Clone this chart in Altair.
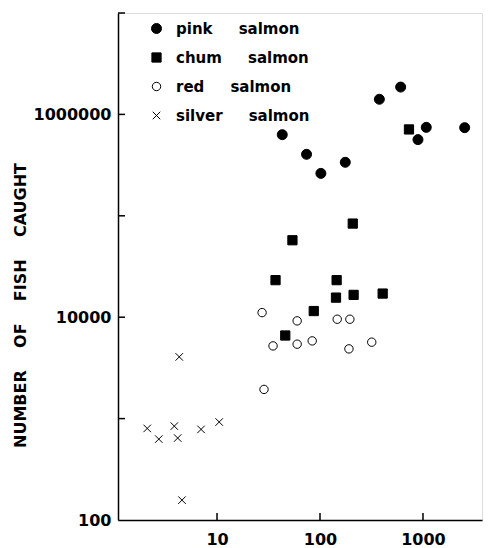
import altair as alt
import pandas as pd

# ---- data (x = body size / y = number caught) ----
PINK_X = [43, 74, 102, 176, 377, 607, 894, 1076, 2540]
PINK_Y = [631000, 404000, 262000, 337000, 1410000, 1860000, 564000, 745000, 740000]

CHUM_X = [731, 208, 54, 37, 145, 143, 212, 406, 87, 46]
CHUM_Y = [711000, 83800, 57400, 23200, 23200, 15600, 16600, 17100, 11500, 6600]

RED_X = [27.4, 60, 147, 195, 35, 60, 84, 191, 318, 28.6]
RED_Y = [11100, 9200, 9550, 9550, 5210, 5420, 5840, 4870, 5670, 1940]

SILVER_X = [4.3, 2.1, 2.72, 3.85, 4.15, 7.0, 10.5, 4.57]
SILVER_Y = [4060, 800, 628, 843, 643, 783, 925, 157]

NB = "\u00a0"
SPECIES = [
    "pink" + NB * 5 + "salmon",
    "chum" + NB * 5 + "salmon",
    "red" + NB * 5 + "salmon",
    "silver" + NB * 5 + "salmon",
]

X_TICKS = [10, 100, 1000]
Y_TICKS = [1000, 10000, 100000, 1000000, 10000000]
X_LABELS = [10, 100, 1000]
Y_LABELS = [100, 10000, 1000000]

rows = []
for name, xs, ys in zip(SPECIES, [PINK_X, CHUM_X, RED_X, SILVER_X],
                        [PINK_Y, CHUM_Y, RED_Y, SILVER_Y]):
    for a, b in zip(xs, ys):
        rows.append({"species": name, "x": a, "y": b})
df = pd.DataFrame(rows)

FONT = "DejaVu Sans"
xscale = alt.Scale(type="log", domain=[1.093, 3741], nice=False)
yscale = alt.Scale(type="log", domain=[100, 10000000], nice=False)

XAXIS = alt.Axis(
    values=X_LABELS, format="d", ticks=False, grid=False, title=None,
    domainColor="black", domainWidth=1.5, labelFontSize=16, labelFont=FONT,
    labelFontWeight="bold", labelColor="black", labelPadding=11)
YAXIS = alt.Axis(
    values=Y_LABELS, format="d", ticks=False, grid=False,
    title="NUMBER" + NB * 4 + "OF" + NB * 4 + "FISH" + NB * 4 + "CAUGHT",
    titleFont=FONT, titleFontSize=16, titleFontWeight="bold", titleColor="black",
    titleX=-98, titleY=292, titleAngle=-90, titleAlign="center", titleBaseline="middle",
    domainColor="black", domainWidth=1.5, labelFontSize=16, labelFont=FONT,
    labelFontWeight="bold", labelColor="black", labelPadding=7)

XPATH = "M-1,-1L1,1M-1,1L1,-1"

points = alt.Chart(df).mark_point(opacity=1, color="black").encode(
    x=alt.X("x:Q", scale=xscale, axis=XAXIS),
    y=alt.Y("y:Q", scale=yscale, axis=YAXIS),
    shape=alt.Shape("species:N", scale=alt.Scale(
        domain=SPECIES, range=["circle", "square", "circle", XPATH]),
        legend=alt.Legend(title=None, orient="none", legendX=31, legendY=8,
                          labelFont=FONT, labelFontSize=15, labelFontWeight="bold",
                          labelColor="black", labelLimit=300, labelOffset=12,
                          rowPadding=13, padding=0, symbolStrokeColor="black")),
    fill=alt.Fill("species:N", scale=alt.Scale(
        domain=SPECIES, range=["black", "black", "white", "black"])),
    size=alt.Size("species:N", scale=alt.Scale(
        domain=SPECIES, range=[100, 56, 45, 36])),
    strokeWidth=alt.StrokeWidth("species:N", scale=alt.Scale(
        domain=SPECIES, range=[1, 1, 1.8, 2.1])),
)

tick_y = alt.Chart(pd.DataFrame({"v": Y_TICKS})).mark_rule(color="black", strokeWidth=1.5).encode(
    y=alt.Y("v:Q", scale=yscale, axis=YAXIS),
    x=alt.value(0), x2=alt.value(7),
)
tick_x = alt.Chart(pd.DataFrame({"v": X_TICKS})).mark_rule(color="black", strokeWidth=1.5).encode(
    x=alt.X("v:Q", scale=xscale, axis=XAXIS),
    y=alt.value(507), y2=alt.value(500),
)

chart = alt.layer(points, tick_y, tick_x).properties(
    width=364, height=507,
    autosize=alt.AutoSizeParams(type="none"),
    padding={"left": 110, "top": 5, "right": 1, "bottom": 28},
).configure_view(stroke=None).configure(font=FONT)

chart.save("out.html", embed_options={"renderer": "svg", "actions": False})
